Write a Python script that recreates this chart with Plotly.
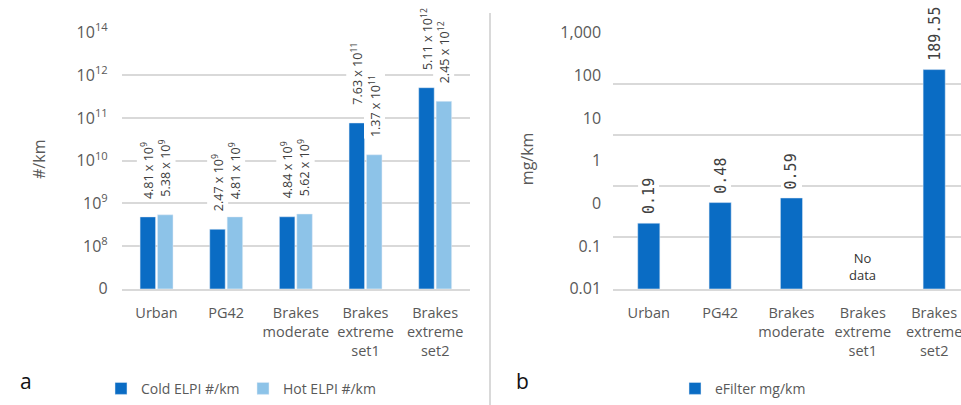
import numpy as np
import plotly.graph_objects as go

# ---------------- data ----------------
categories = ["Urban", "PG42", "Brakes<br>moderate", "Brakes<br>extreme<br>set1", "Brakes<br>extreme<br>set2"]
cold_elpi = [4.81e9, 2.47e9, 4.84e9, 7.63e11, 5.11e12]
hot_elpi = [5.38e9, 4.81e9, 5.62e9, 1.37e11, 2.45e12]
efilter = [0.19, 0.48, 0.59, None, 189.55]

left_tickvals = [1e8, 1e9, 1e10, 1e11, 1e12, 1e13, 1e14]
left_ticktext = ["0", "10<sup>8</sup>", "10<sup>9</sup>", "10<sup>10</sup>",
                 "10<sup>11</sup>", "10<sup>12</sup>", "10<sup>14</sup>"]
right_grid_vals = [0.01, 0.1, 1, 10, 100, 1000]
right_ticktext = ["0.01", "0.1", "0", "1", "10", "100", "1,000"]

# ---------------- styles ----------------
C_COLD = "#0A6CC4"
C_HOT = "#8DC3E8"
GRID = "#D9D9D9"
TXT = "#595959"
LBL = "#404040"
FONT = "Open Sans"

def sci(v):
    e = int(np.floor(np.log10(v)))
    m = v / 10 ** e
    return f"{m:.2f} x 10<sup>{e}</sup>"

fig = go.Figure()
fig.add_trace(go.Bar(x=categories, y=cold_elpi, name="Cold ELPI #/km", marker_color=C_COLD,
                     xaxis="x", yaxis="y", legend="legend"))
fig.add_trace(go.Bar(x=categories, y=hot_elpi, name="Hot ELPI #/km", marker_color=C_HOT,
                     xaxis="x", yaxis="y", legend="legend"))
fig.add_trace(go.Bar(x=categories, y=efilter, name="eFilter mg/km", marker_color=C_COLD,
                     width=0.31, xaxis="x2", yaxis="y2", legend="legend2"))
# empty helper trace so the overlaid label axis of panel b is drawn
fig.add_trace(go.Scatter(x=[], y=[], xaxis="x2", yaxis="y3", showlegend=False,
                         hoverinfo="skip"))

annotations = []
# data labels left panel
for vals, shift in ((cold_elpi, -8.8), (hot_elpi, 8.8)):
    for c, v in zip(categories, vals):
        annotations.append(dict(x=c, y=np.log10(v), xref="x", yref="y", xshift=shift, yshift=16,
                                text=sci(v), textangle=-90, showarrow=False, yanchor="bottom",
                                xanchor="center", bgcolor="white",
                                font=dict(family=FONT, size=12.5, color=LBL)))
# data labels right panel
for c, v in zip(categories, efilter):
    if v is None:
        annotations.append(dict(x=c, y=0, xref="x2", yref="y2 domain", yshift=3,
                                text="No<br>data", showarrow=False, yanchor="bottom",
                                font=dict(family=FONT, size=13, color="#333333")))
        continue
    annotations.append(dict(x=c, y=np.log10(v), xref="x2", yref="y2", yshift=7,
                            text=f"{v:.2f}", textangle=-90, showarrow=False, yanchor="bottom",
                            bgcolor="white",
                            font=dict(family="DejaVu Sans Mono", size=15, color=LBL)))
# axis titles and panel letters
annotations += [
    dict(x=26 / 961, y=0.605, xref="paper", yref="paper", text="#/km", textangle=-90,
         showarrow=False, font=dict(family=FONT, size=16, color=TXT)),
    dict(x=527 / 961, y=0.607, xref="paper", yref="paper", text="mg/km", textangle=-90,
         showarrow=False, font=dict(family=FONT, size=16, color=TXT)),
    dict(x=18 / 961, y=0.02, xref="paper", yref="paper", text="a", showarrow=False,
         font=dict(family=FONT, size=21, color="#111111")),
    dict(x=522 / 961, y=0.02, xref="paper", yref="paper", text="b", showarrow=False,
         font=dict(family=FONT, size=21, color="#111111")),
]

ydom = [0.2872, 0.92]
xfont = dict(family=FONT, size=14.5, color=TXT)
yfont = dict(family=FONT, size=16, color=TXT)

fig.update_layout(
    width=961, height=405,
    margin=dict(l=0, r=0, t=0, b=0, autoexpand=False),
    paper_bgcolor="white", plot_bgcolor="white",
    barmode="group", bargap=0.5, bargroupgap=0.11,
    xaxis=dict(domain=[121.7 / 961, 470 / 961], anchor="y", showline=True, linecolor=GRID,
               linewidth=1.5, showgrid=False, tickfont=xfont, ticks="", ticklabelstandoff=10),
    yaxis=dict(domain=ydom, anchor="x", type="log", range=[8, 14.004], tickvals=left_tickvals,
               ticktext=left_ticktext, showgrid=True, gridcolor=GRID, gridwidth=1.5,
               tickfont=yfont, ticks="", ticklabelstandoff=13, zeroline=False),
    xaxis2=dict(domain=[613.1 / 961, 1.0], anchor="y2", range=[-0.5, 4.376], showline=True,
                linecolor=GRID, linewidth=1.5, showgrid=False, tickfont=xfont, ticks="",
                ticklabelstandoff=10),
    yaxis2=dict(domain=ydom, anchor="x2", type="log", range=[-2, 3.004], tickvals=right_grid_vals,
                showticklabels=False, showgrid=True, gridcolor=GRID, gridwidth=1.5, ticks="",
                zeroline=False),
    yaxis3=dict(domain=ydom, anchor="x2", overlaying="y2", side="left", type="log",
                range=[-2, 3.004],
                tickvals=[10 ** (-2 + k * 5 / 6) for k in range(len(right_ticktext))],
                ticktext=right_ticktext, showgrid=False, tickfont=yfont, ticks="",
                ticklabelstandoff=11, zeroline=False),
    legend=dict(orientation="h", x=101 / 961, y=0.04, xanchor="left", yanchor="middle",
                font=dict(family=FONT, size=14, color=TXT), entrywidth=97,
                entrywidthmode="pixels", bgcolor="rgba(0,0,0,0)"),
    legend2=dict(orientation="h", x=675 / 961, y=0.04, xanchor="left", yanchor="middle",
                 font=dict(family=FONT, size=14, color=TXT), bgcolor="rgba(0,0,0,0)"),
    annotations=annotations,
    shapes=[dict(type="line", xref="paper", yref="paper", x0=490 / 961, x1=490 / 961,
                 y0=0, y1=(405 - 13) / 405, line=dict(color=GRID, width=2))],
    showlegend=True,
)

fig.write_html("out.html")
